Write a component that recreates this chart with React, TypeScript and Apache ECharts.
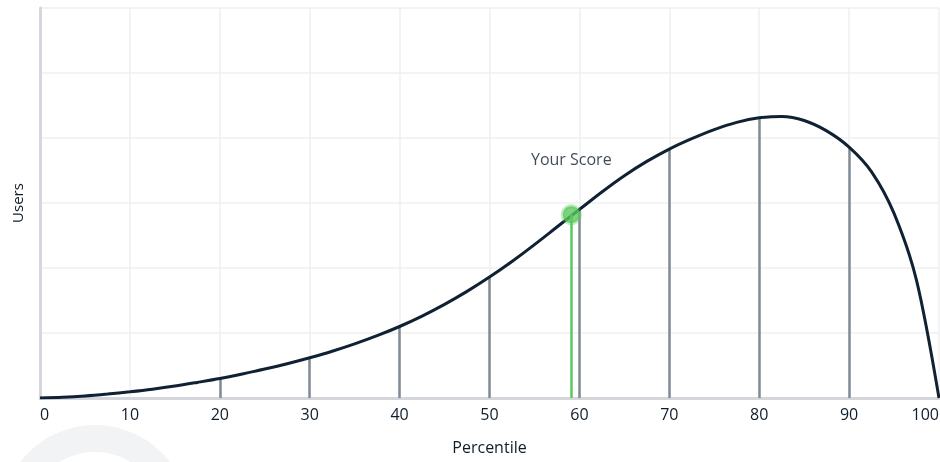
import React, { useEffect, useRef } from "react";
import * as echarts from "echarts";

const curveX = [0, 2.5, 5, 7.5, 10, 12.5, 15, 17.5, 20, 22.5, 25, 27.5, 30, 32.5, 35, 37.5, 40, 42.5, 45, 47.5, 50, 52.5, 55, 57.5, 60, 62.5, 65, 67.5, 70, 72.5, 75, 77.5, 80, 82.5, 85, 87.5, 90, 92.5, 95, 97.5, 100];
const curveY = [0, 0.01, 0.03, 0.06, 0.095, 0.135, 0.183, 0.24, 0.3, 0.37, 0.445, 0.528, 0.62, 0.72, 0.833, 0.959, 1.1, 1.26, 1.44, 1.64, 1.86, 2.1, 2.36, 2.63, 2.9, 3.17, 3.42, 3.64, 3.83, 3.99, 4.13, 4.24, 4.31, 4.33, 4.27, 4.11, 3.86, 3.48, 2.84, 1.81, 0];
const dropX = [20, 30, 40, 50, 60, 70, 80, 90];
const scoreX = 59.1;
const scoreY = 2.82;
const scoreLabel = "Your Score";
const xTicks = [0, 10, 20, 30, 40, 50, 60, 70, 80, 90, 100];
const xName = "Percentile";
const yName = "Users";

const FONT = "'Open Sans', 'Noto Sans', sans-serif";
const TEXT = "#0f1c2a";

export default function App() {
  const ref = useRef<HTMLDivElement>(null);
  useEffect(() => {
    if (!ref.current) return;
    const chart = echarts.init(ref.current, undefined, { renderer: "svg" });
    const curve = curveX.map((x, i) => [x, curveY[i]]);
    const drops = dropX.map((x) => {
      const i = curveX.indexOf(x);
      return [{ coord: [x, 0] }, { coord: [x, curveY[i]] }];
    });
    chart.setOption({
      animation: false,
      textStyle: { fontFamily: FONT },
      grid: { left: 40, right: 1, top: 8, bottom: 64, outerBoundsMode: "none", containLabel: false },
      graphic: [
        {
          type: "ring",
          shape: { cx: 95, cy: 519, r: 94, r0: 67 },
          style: { fill: "#f2f3f5" },
          z: -10,
          silent: true,
        },
      ],
      xAxis: {
        type: "value",
        min: 0,
        max: 100,
        interval: 10,
        name: xName,
        nameLocation: "middle",
        nameGap: 41,
        nameTextStyle: { color: TEXT, fontSize: 16, fontFamily: FONT },
        axisLine: { show: true, lineStyle: { color: "#d3d6da", width: 3 } },
        axisTick: { show: false },
        axisLabel: {
          color: TEXT,
          fontSize: 16,
          margin: 8,
          fontFamily: FONT,
          alignMinLabel: "left",
          alignMaxLabel: "right",
          formatter: (v: number) => (xTicks.includes(v) ? String(v) : ""),
        },
        splitLine: { show: true, lineStyle: { color: "#eeeff1", width: 1.5 } },
      },
      yAxis: {
        type: "value",
        min: 0,
        max: 6,
        interval: 1,
        name: yName,
        nameLocation: "middle",
        nameGap: 16,
        nameTextStyle: { color: TEXT, fontSize: 15, fontFamily: FONT },
        axisLine: { show: true, onZero: false, lineStyle: { color: "#d3d6da", width: 3 } },
        axisTick: { show: false },
        axisLabel: { show: false },
        splitLine: { show: true, lineStyle: { color: "#eeeff1", width: 1.5 } },
      },
      series: [
        {
          type: "line",
          data: curve,
          smooth: 0.3,
          showSymbol: false,
          lineStyle: { color: "#0f2133", width: 3 },
          z: 3,
          markLine: {
            silent: true,
            symbol: "none",
            label: { show: false },
            lineStyle: { color: "#808b95", width: 2.5, type: "solid" },
            data: drops,
            z: 2,
          },
        },
        {
          type: "scatter",
          data: [[scoreX, scoreY]],
          symbolSize: 17,
          itemStyle: { color: "#5ac85c", borderColor: "rgba(90,200,92,0.45)", borderWidth: 4 },
          z: 5,
          label: {
            show: true,
            position: "top",
            distance: 37,
            formatter: scoreLabel,
            color: TEXT,
            fontSize: 16,
            fontFamily: FONT,
          },
          markLine: {
            silent: true,
            symbol: "none",
            label: { show: false },
            lineStyle: { color: "#5ac85c", width: 2.5, type: "solid" },
            data: [[{ coord: [scoreX, 0] }, { coord: [scoreX, scoreY] }]],
            z: 4,
          },
        },
      ],
    });
    return () => chart.dispose();
  }, []);
  return (
    <div
      ref={ref}
      style={{ position: "fixed", left: 0, top: 0, width: 940, height: 462 }}
    />
  );
}
